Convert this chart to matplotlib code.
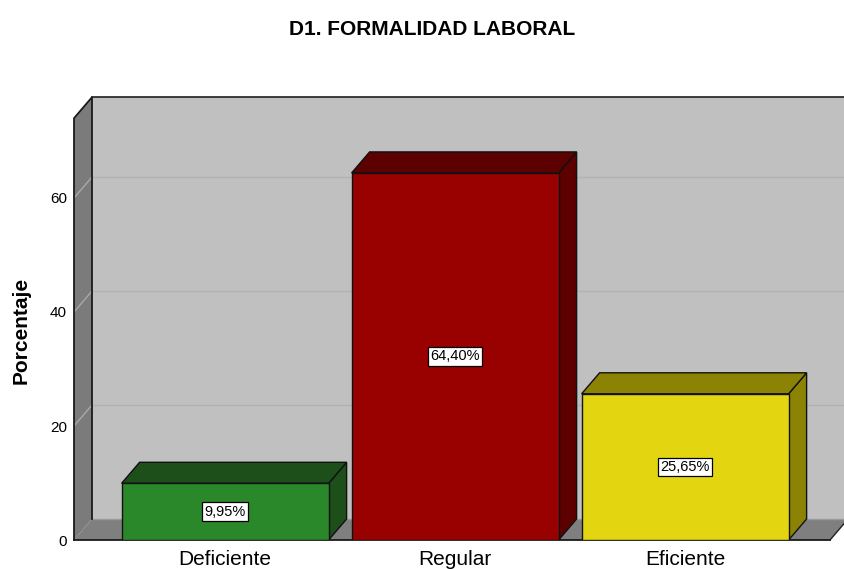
import matplotlib
matplotlib.use("Agg")
import matplotlib.pyplot as plt
from matplotlib.patches import Polygon

plt.rcParams['font.family'] = ['Liberation Sans', 'DejaVu Sans']

# datos del grafico
categorias = ['Deficiente', 'Regular', 'Eficiente']
porcentajes = [9.95, 64.40, 25.65]
etiquetas = ['9,95%', '64,40%', '25,65%']
ticks_y = [0, 20, 40, 60]

col_frente = ['#2a882a', '#990000', '#e3d611']
col_lado = ['#1d4f1a', '#5c0000', '#8c8305']

titulo = 'D1. FORMALIDAD LABORAL'
eje_y = 'Porcentaje'

# geometria (x en unidades de categoria, y en porcentaje)
ancho = 0.9
dx = 18 / 230      # profundidad en x
dy = 21 / 5.7      # profundidad en y
x0 = -0.657        # borde frontal izquierdo
x1 = 2.63          # borde frontal derecho
ytop = 74.0

fig = plt.figure(figsize=(8.45, 5.69), dpi=100)
ax = fig.add_axes([74 / 845, 29 / 569, (845 - 74) / 845, 443 / 569])
ax.set_xlim(x0, x0 + (845 - 74) / 230)
ax.set_ylim(0, 443 / 5.7)

# pared de fondo
ax.add_patch(Polygon([(x0 + dx, dy), (x1 + dx + 1, dy), (x1 + dx + 1, ytop + dy), (x0 + dx, ytop + dy)],
                     closed=True, facecolor='#c0c0c0', edgecolor='none', zorder=1, clip_on=False))
ax.plot([x0 + dx, x1 + dx + 1], [ytop + dy, ytop + dy], color='#202020', lw=1.2, zorder=2, clip_on=False)

# pared izquierda
ax.add_patch(Polygon([(x0, 0), (x0 + dx, dy), (x0 + dx, ytop + dy), (x0, ytop)],
                     closed=True, facecolor='#7b7b7b', edgecolor='none', zorder=2, clip_on=False))

# lineas de cuadricula
for t in ticks_y[1:]:
    ax.plot([x0 + dx, x1 + dx + 1], [t + dy, t + dy], color='#b2b2b2', lw=1.0, zorder=1.5)
    ax.plot([x0, x0 + dx], [t, t + dy], color='#a8a8a8', lw=1.0, zorder=2.5, clip_on=False)

# piso
ax.add_patch(Polygon([(x0, 0), (x1, 0), (x1 + dx, dy), (x0 + dx, dy)],
                     closed=True, facecolor='#7f7f7f', edgecolor='none', zorder=2, clip_on=False))
ax.plot([x0 + dx, x1 + dx], [dy, dy], color='#9a9a9a', lw=1.0, zorder=2.6)
ax.plot([x1, x1 + dx], [0, dy], color='#202020', lw=1.0, zorder=2.6, clip_on=False)

# bordes negros
ax.plot([x0, x0, x0 + dx, x0 + dx], [0, ytop, ytop + dy, dy], color='#1a1a1a', lw=1.3, zorder=3, clip_on=False)
ax.plot([x0, x1], [0, 0], color='#1a1a1a', lw=1.3, zorder=3, clip_on=False)

# barras 3D
for i, v in enumerate(porcentajes):
    a = i - ancho / 2
    b = i + ancho / 2
    ax.add_patch(Polygon([(b, 0), (b + dx, dy), (b + dx, v + dy), (b, v)],
                         closed=True, facecolor=col_lado[i], edgecolor='#111111', lw=1.0, zorder=4))
    ax.add_patch(Polygon([(a, v), (b, v), (b + dx, v + dy), (a + dx, v + dy)],
                         closed=True, facecolor=col_lado[i], edgecolor='#111111', lw=1.0, zorder=4))
    ax.add_patch(Polygon([(a, 0), (b, 0), (b, v), (a, v)],
                         closed=True, facecolor=col_frente[i], edgecolor='#111111', lw=1.0, zorder=5))
    ax.text(i, v / 2, etiquetas[i], ha='center', va='center', fontsize=10.5, zorder=6,
            bbox=dict(boxstyle='square,pad=0.15', facecolor='white', edgecolor='black', lw=0.9))

ax.set_xticks(range(len(categorias)))
ax.set_xticklabels(categorias, fontsize=15)
ax.set_yticks(ticks_y)
ax.set_yticklabels([str(t) for t in ticks_y], fontsize=11)
ax.tick_params(axis='both', length=0)
ax.tick_params(axis='x', pad=7)
ax.tick_params(axis='y', pad=5)
for s in ax.spines.values():
    s.set_visible(False)
ax.patch.set_visible(False)

fig.text(432 / 845, 1 - 35 / 569, titulo, ha='center', va='baseline', fontsize=15, fontweight='bold')
fig.text(21 / 845, 1 - 330 / 569, eje_y, ha='center', va='center', rotation=90, fontsize=15, fontweight='bold')

fig.savefig('out.png', dpi=100)
